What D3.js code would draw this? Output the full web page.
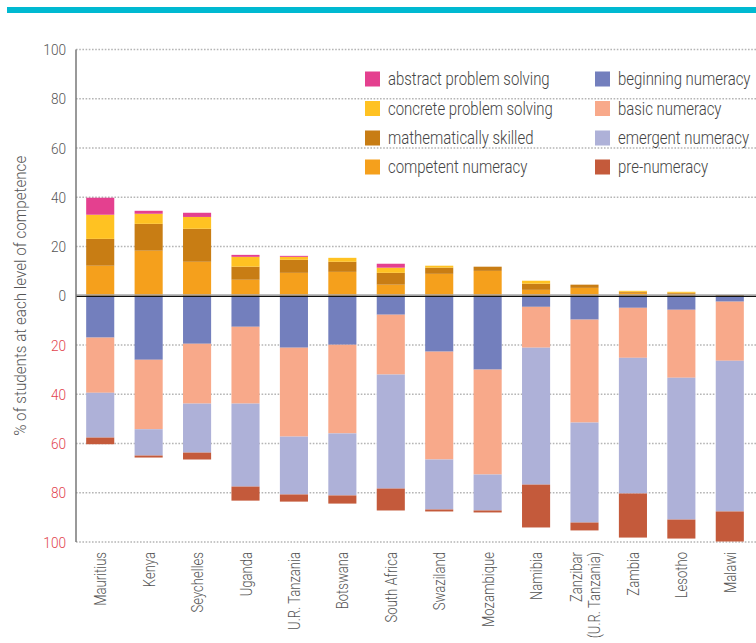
<!DOCTYPE html>
<html><head><meta charset="utf-8">
<script src="https://cdn.jsdelivr.net/npm/d3@7"></script>
<style>
html,body{margin:0;padding:0;background:#fff;}
svg{display:block;font-family:"Roboto","Liberation Sans",sans-serif;font-weight:300;}
</style></head>
<body>
<svg id="chart" width="756" height="643"></svg>
<script>
const countries = ["Mauritius","Kenya","Seychelles","Uganda","U.R. Tanzania","Botswana","South Africa","Swaziland","Mozambique","Namibia","Zanzibar|(U.R. Tanzania)","Zambia","Lesotho","Malawi"];
const abstractSolving = [6.9,1.2,1.7,0.8,0.4,0,1.6,0,0,0,0,0,0,0];
const concreteSolving = [9.8,4.1,4.8,4.0,1.2,1.6,2.1,0.8,0,1.2,0,0.4,0.4,0];
const mathSkilled     = [10.9,10.9,13.4,5.3,5.3,4.1,4.8,2.5,1.7,2.5,1.3,0.4,0.4,0.3];
const competent       = [12.2,18.3,13.8,6.5,9.3,9.7,4.5,8.9,10.1,2.4,3.2,1.2,0.8,0];
const beginning       = [17.0,26.0,19.5,12.6,21.1,19.9,7.7,22.7,30.0,4.5,9.7,4.9,5.7,2.4];
const basic           = [22.4,28.2,24.3,31.2,36.1,36.0,24.3,43.8,42.6,16.6,41.8,20.3,27.6,24.0];
const emergent        = [18.2,10.7,19.9,33.7,23.5,25.2,46.3,20.3,14.6,55.6,40.6,55.1,57.6,61.2];
const preNumeracy     = [2.7,0.8,2.8,5.7,2.9,3.3,8.9,0.8,0.8,17.4,3.2,17.9,7.7,12.2];
const yTicks = [0,20,40,60,80,100];

const seriesDefs = [
  {key:"competent", label:"competent numeracy", values:competent, sign:1, color:"#F5A01C"},
  {key:"math", label:"mathematically skilled", values:mathSkilled, sign:1, color:"#C87D14"},
  {key:"concrete", label:"concrete problem solving", values:concreteSolving, sign:1, color:"#FFC222"},
  {key:"abstract", label:"abstract problem solving", values:abstractSolving, sign:1, color:"#E4408F"},
  {key:"beginning", label:"beginning numeracy", values:beginning, sign:-1, color:"#737FBD"},
  {key:"basic", label:"basic numeracy", values:basic, sign:-1, color:"#F8A98A"},
  {key:"emergent", label:"emergent numeracy", values:emergent, sign:-1, color:"#AEB1D8"},
  {key:"pre", label:"pre-numeracy", values:preNumeracy, sign:-1, color:"#C45A3B"}
];
const legendCol1 = ["abstract","concrete","math","competent"];
const legendCol2 = ["beginning","basic","emergent","pre"];

const rows = countries.map((c,i)=>{
  const r = {country:c};
  seriesDefs.forEach(s=>{ r[s.key] = s.sign*s.values[i]; });
  return r;
});

const svg = d3.select("#chart");
const x = d3.scaleBand().domain(countries).range([76,754]).paddingInner(0.42).paddingOuter(0.21);
const y = d3.scaleLinear().domain([-100,100]).range([542,49.5]);
const x0 = 76, x1 = 756;

// top teal band
svg.append("rect").attr("x",7).attr("y",7).attr("width",749).attr("height",6).attr("fill","#00B9D1");

// gridlines
const gridVals = [-100,-80,-60,-40,-20,20,40,60,80,100];
svg.append("g").selectAll("line").data(gridVals).join("line")
  .attr("x1",x0).attr("x2",x1).attr("y1",d=>y(d)).attr("y2",d=>y(d))
  .attr("stroke","#b5b5b5").attr("stroke-width",1.3).attr("stroke-dasharray","1.6,1.6");

// stacked bars
const stack = d3.stack().keys(seriesDefs.map(s=>s.key)).offset(d3.stackOffsetDiverging);
const stacked = stack(rows);
const colorOf = Object.fromEntries(seriesDefs.map(s=>[s.key,s.color]));
svg.append("g").selectAll("g").data(stacked).join("g")
  .attr("fill",d=>colorOf[d.key])
  .selectAll("rect").data(d=>d).join("rect")
  .attr("x",d=>x(d.data.country))
  .attr("width",x.bandwidth())
  .attr("y",d=>y(Math.max(d[0],d[1])))
  .attr("height",d=>Math.abs(y(d[0])-y(d[1])));

// zero line
svg.append("line").attr("x1",x0).attr("x2",x1).attr("y1",y(0)-0.8).attr("y2",y(0)-0.8)
  .attr("stroke","#aaa").attr("stroke-width",1.2);
svg.append("line").attr("x1",x0).attr("x2",x1).attr("y1",y(0)+0.6).attr("y2",y(0)+0.6)
  .attr("stroke","#111").attr("stroke-width",1.4);

// y axis line
svg.append("line").attr("x1",x0).attr("x2",x0).attr("y1",y(100)).attr("y2",y(-100))
  .attr("stroke","#777").attr("stroke-width",1.5);

// y tick labels (narrowed)
const tickG = svg.append("g").attr("font-size",15.5);
tickG.selectAll("text.pos").data(yTicks).join("text").attr("class","pos")
  .attr("transform",d=>`translate(66,${y(d)}) scale(0.88,1)`).attr("dy","0.36em").attr("text-anchor","end")
  .attr("fill","#555").text(d=>d);
tickG.selectAll("text.neg").data(yTicks.filter(d=>d>0)).join("text").attr("class","neg")
  .attr("transform",d=>`translate(66,${y(-d)}) scale(0.88,1)`).attr("dy","0.36em").attr("text-anchor","end")
  .attr("fill","#E2434E").text(d=>d);

// y title
svg.append("text").attr("transform",`translate(26,${y(0)}) rotate(-90) scale(0.95,1)`)
  .attr("text-anchor","middle").attr("font-size",16).attr("fill","#555")
  .text("% of students at each level of competence");

// x labels
const xl = svg.append("g").attr("font-size",17).attr("fill","#555");
countries.forEach(c=>{
  const parts = c.split("|");
  const cx = x(c)+x.bandwidth()/2;
  const lh = 18;
  parts.forEach((p,j)=>{
    const off = (j-(parts.length-1)/2)*lh;
    xl.append("text").attr("transform",`translate(${cx+off},552) rotate(-90) scale(0.77,1)`)
      .attr("text-anchor","end").attr("dy","0.36em").text(p);
  });
});

// legend
const leg = svg.append("g").attr("font-size",18).attr("fill","#444");
const rowsY = [79,108.5,138,167];
const byKey = Object.fromEntries(seriesDefs.map(s=>[s.key,s]));
[[legendCol1,365],[legendCol2,595]].forEach(([keys,lx])=>{
  keys.forEach((k,i)=>{
    leg.append("rect").attr("x",lx).attr("y",rowsY[i]-7.5).attr("width",15).attr("height",15).attr("fill",byKey[k].color);
    leg.append("text").attr("transform",`translate(${lx+23},${rowsY[i]}) scale(0.83,1)`).attr("dy","0.36em").text(byKey[k].label);
  });
});
</script>
</body></html>
